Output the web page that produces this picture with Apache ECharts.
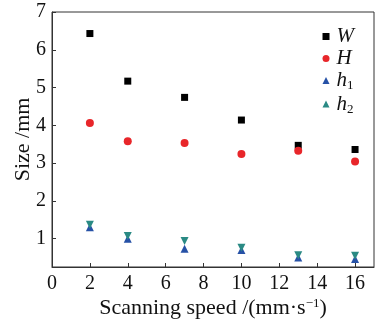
<!DOCTYPE html>
<html><head><meta charset="utf-8">
<script src="https://cdn.jsdelivr.net/npm/echarts@6/dist/echarts.min.js"></script>
<style>html,body{margin:0;padding:0;background:#fff}#c{width:381px;height:321px}</style>
</head><body><div id="c"></div>
<script>
const speeds = [2, 4, 7, 10, 13, 16];
const W  = [6.43, 5.17, 4.74, 4.14, 3.47, 3.36];
const H  = [4.06, 3.58, 3.53, 3.24, 3.33, 3.04];
const h1 = [1.30, 1.00, 0.73, 0.70, 0.50, 0.46];
const h2 = [1.37, 1.07, 0.94, 0.76, 0.56, 0.55];
const xTicks = [0, 2, 4, 6, 8, 10, 12, 14, 16];
const yTicks = [1, 2, 3, 4, 5, 6, 7];

const pairs = v => speeds.map((s, i) => [s, v[i]]);
const font = 'Liberation Serif';
const chart = echarts.init(document.getElementById('c'), null, {renderer: 'canvas'});
const legendRich = {
  i: {fontFamily: font, fontStyle: 'italic', fontSize: 21, color: '#111'},
  s: {fontFamily: font, fontSize: 13, color: '#111', verticalAlign: 'bottom', padding: [11, 0, 0, 0]}
};
const labels = {W: '{i|W}', H: '{i|H}', h1: '{i|h}{s|1}', h2: '{i|h}{s|2}'};
chart.setOption({
  animation: false,
  grid: {left: 52, top: 12, right: 7, bottom: 54, show: true, borderColor: '#333', borderWidth: 1,
         containLabel: false, outerBoundsMode: 'none'},
  legend: {
    right: 22, top: 21, orient: 'vertical', itemGap: 1, itemWidth: 7, itemHeight: 7,
    formatter: n => labels[n],
    textStyle: {rich: legendRich, fontFamily: font, padding: [0, 0, 0, 2]},
    data: ['W', 'H', 'h1', 'h2']
  },
  xAxis: {
    type: 'value', min: 0, max: 17,
    axisLine: {show: true, onZero: false, lineStyle: {color: '#333', width: 1}},
    axisTick: {show: true, inside: true, length: 4, customValues: xTicks, lineStyle: {color: '#333'}},
    axisLabel: {customValues: xTicks, fontFamily: font, fontSize: 20, color: '#111', margin: 7},
    splitLine: {show: false},
    name: 'Scanning speed /(mm·s{sup|−1})', nameLocation: 'middle', nameGap: 30, nameMoveOverlap: false,
    nameTextStyle: {fontFamily: font, fontSize: 22, color: '#111',
      rich: {sup: {fontFamily: font, fontSize: 13, color: '#111', verticalAlign: 'top', padding: [0, 0, 9, 0]}}}
  },
  yAxis: {
    type: 'value', min: 0.25, max: 7,
    axisLine: {show: true, onZero: false, lineStyle: {color: '#333', width: 1}},
    axisTick: {show: true, inside: true, length: 4, customValues: yTicks, lineStyle: {color: '#333'}},
    axisLabel: {customValues: yTicks, fontFamily: font, fontSize: 20, color: '#111', margin: 6},
    splitLine: {show: false},
    name: 'Size /mm', nameLocation: 'middle', nameGap: 18, nameMoveOverlap: false,
    nameTextStyle: {fontFamily: font, fontSize: 22, color: '#111'}
  },
  series: [
    {name: 'W', type: 'scatter', symbol: 'rect', symbolSize: 7, itemStyle: {color: '#000', opacity: 1}, data: pairs(W)},
    {name: 'H', type: 'scatter', symbol: 'circle', symbolSize: 8, itemStyle: {color: '#e8262a', opacity: 1}, data: pairs(H)},
    {name: 'h1', type: 'scatter', symbol: 'triangle', symbolSize: 8, itemStyle: {color: '#2651a6', opacity: 1}, data: pairs(h1)},
    {name: 'h2', type: 'scatter', symbol: 'triangle', symbolRotate: 180, symbolSize: 8, itemStyle: {color: '#2a8a84', opacity: 1}, data: pairs(h2)}
  ]
});
</script></body></html>
